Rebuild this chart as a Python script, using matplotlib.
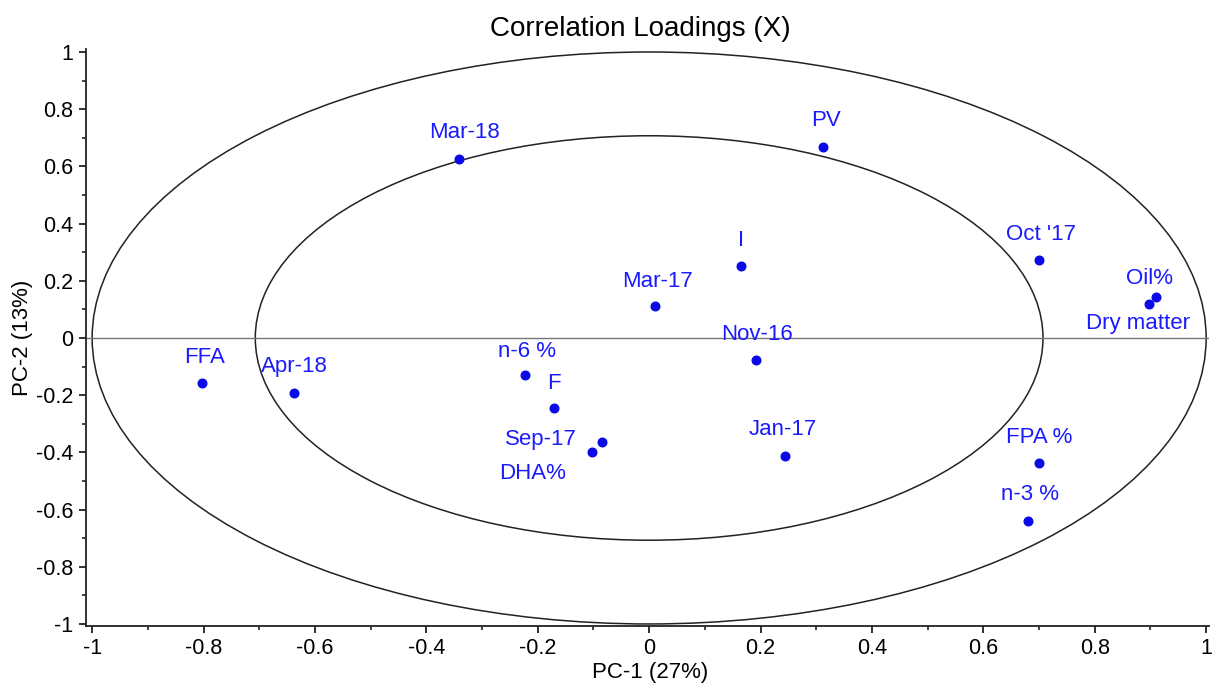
import numpy as np
import matplotlib
matplotlib.use("Agg")
import matplotlib.pyplot as plt
from matplotlib.patches import Ellipse
from matplotlib.ticker import MultipleLocator

# PCA correlation loadings, PC-1 vs PC-2
names = ["Mar-18", "PV", "I", "Oct '17", "Oil%", "Dry matter", "Mar-17",
         "Nov-16", "n-6 %", "F", "Sep-17", "DHA%", "Jan-17", "FFA",
         "Apr-18", "FPA %", "n-3 %"]
pc1 = [-0.341, 0.312, 0.165, 0.700, 0.910, 0.898, 0.011,
       0.192, -0.222, -0.170, -0.085, -0.102, 0.244, -0.803,
       -0.638, 0.700, 0.681]
pc2 = [0.626, 0.668, 0.252, 0.273, 0.143, 0.119, 0.112,
       -0.077, -0.130, -0.246, -0.365, -0.397, -0.411, -0.159,
       -0.193, -0.438, -0.639]

# label offsets from the dot, in pixels
label_dx = [5, 3, 0, 2, -7, -11, 2, 1, 2, -1, -61, -60, -2, 3, 1, 0, 2]
label_dy = [26, 26, 25, 25, 19, -20, 24, 26, 24, 25, 3, -22, 26, 26, 27, 26, 26]

blue = "#0a0ae6"

plt.rcParams["font.family"] = ["Liberation Sans", "DejaVu Sans"]
plt.rcParams["axes.unicode_minus"] = False

fig = plt.figure(figsize=(12.15, 6.9), dpi=100)
ax = fig.add_axes([0.0708, 0.0928, 0.9242, 0.8362])

# 50% and 100% explained variance circles
for r in (1.0, np.sqrt(0.5)):
    ax.add_patch(Ellipse((0, 0), 2 * r, 2 * r, fill=False,
                         edgecolor="#222222", linewidth=1.1))
ax.axhline(0, color="#777777", linewidth=1.0)

ax.plot(pc1, pc2, "o", color=blue, markersize=6.2, zorder=3)
for n, x, y, dx, dy in zip(names, pc1, pc2, label_dx, label_dy):
    ax.annotate(n, (x, y), xytext=(dx, dy), textcoords="offset pixels",
                ha="center", va="center", color="#1a1aff", fontsize=16)

ax.set_xlim(-1.011, 1.005)
ax.set_ylim(-1.007, 1.0105)

ax.xaxis.set_major_locator(MultipleLocator(0.2))
ax.xaxis.set_minor_locator(MultipleLocator(0.1))
ax.yaxis.set_major_locator(MultipleLocator(0.2))
ax.yaxis.set_minor_locator(MultipleLocator(0.1))
ax.xaxis.set_major_formatter(lambda v, p: "%g" % round(v, 2))
ax.yaxis.set_major_formatter(lambda v, p: "%g" % round(v, 2))

for s in ("top", "right"):
    ax.spines[s].set_visible(False)
for s in ("left", "bottom"):
    ax.spines[s].set_linewidth(1.3)
    ax.spines[s].set_color("#222222")

ax.tick_params(which="major", direction="out", length=5, width=1.3,
               labelsize=15.5, pad=4, color="#222222")
ax.tick_params(which="minor", direction="out", length=3, width=1.2,
               color="#222222")

ax.set_title("Correlation Loadings (X)", fontsize=20, pad=9, x=0.494)
ax.set_xlabel("PC-1 (27%)", fontsize=16)
ax.set_ylabel("PC-2 (13%)", fontsize=16)
ax.xaxis.set_label_coords(0.502, -0.062)
ax.yaxis.set_label_coords(-0.047, 0.5)

fig.savefig("out.png", dpi=100)
